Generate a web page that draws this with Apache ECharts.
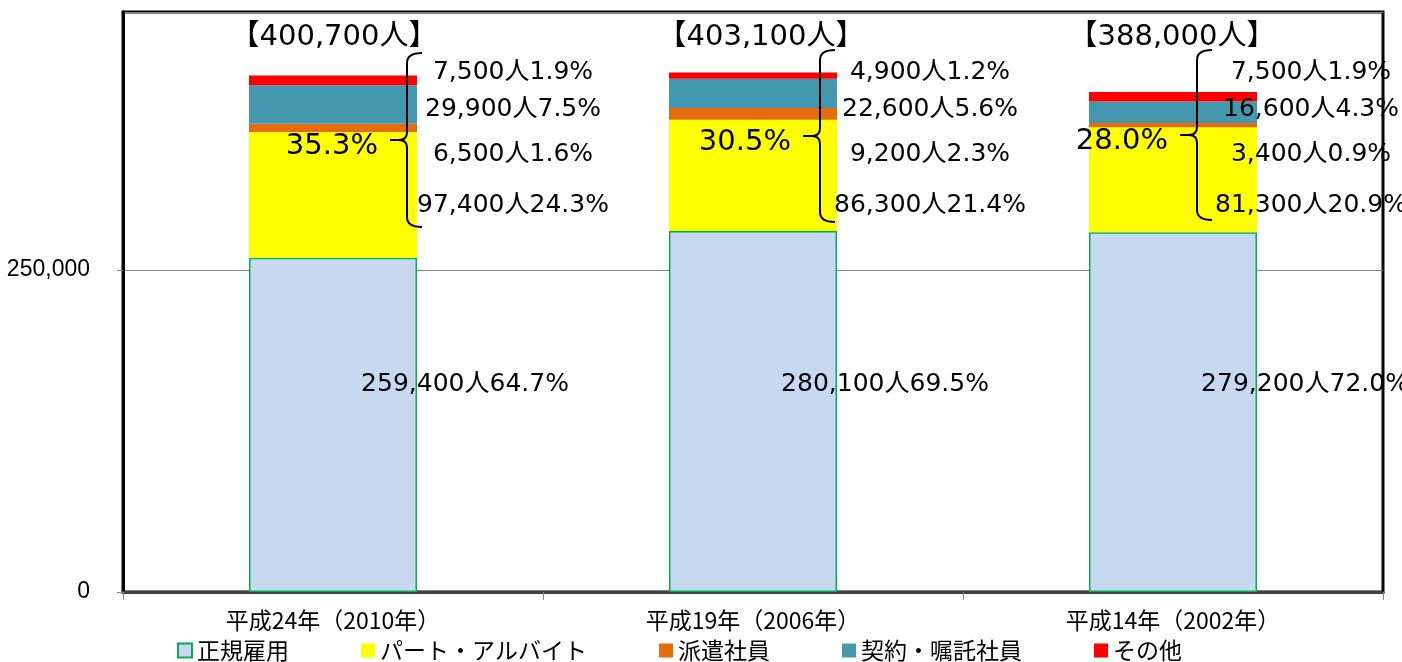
<!DOCTYPE html>
<html>
<head>
<meta charset="utf-8">
<script src="https://cdn.jsdelivr.net/npm/echarts@6/dist/echarts.min.js"></script>
<style>
    html, body { margin: 0; padding: 0; background: #fff; }
    #chart { width: 1402px; height: 662px; }
</style>
</head>
<body>
<div id="chart"></div>
<script>
// カテゴリ・系列
const categories = ["平成24年（2010年）", "平成19年（2006年）", "平成14年（2002年）"];
const seriesNames = ["正規雇用", "パート・アルバイト", "派遣社員", "契約・嘱託社員", "その他"];

// 人数
const regular = [259400, 280100, 279200];
const partTime = [97400, 86300, 81300];
const dispatch = [6500, 9200, 3400];
const contract = [29900, 22600, 16600];
const other = [7500, 4900, 7500];
const totals = [400700, 403100, 388000];

// 構成比（図の表記どおり）
const regularPct = ["64.7", "69.5", "72.0"];
const partTimePct = ["24.3", "21.4", "20.9"];
const dispatchPct = ["1.6", "2.3", "0.9"];
const contractPct = ["7.5", "5.6", "4.3"];
const otherPct = ["1.9", "1.2", "1.9"];
const nonRegularPct = ["35.3", "30.5", "28.0"];

const yMax = 450000;
const yInterval = 250000;

const colors = ["#c6d9f1", "#ffff00", "#e46c0a", "#4398b0", "#ff0000"];
const labelFont = '"DejaVu Sans", "Noto Sans CJK JP", sans-serif';
const cjkFont = '"Noto Sans CJK JP", sans-serif';

// 注記の配置（px, 棒・プロット上端からの相対）
const braceDx = [-10, -17, -60];
const braceTop = [41, 38, 38];
const braceBottom = [215, 210, 208];
const totalDx = [1, 8, -1];
const segLabelDx = [180, 177, 138];
const segRows = [60, 97, 142, 193];
const regularRow = 372;

const fmt = v => v.toLocaleString("en-US") + "人";

let chart = echarts.init(document.getElementById("chart"));

const renderNotes = (params, api) => {
    const i = api.value(0);
    const cx = api.coord([i, 0])[0];
    const top = api.coord([i, yMax])[1];
    const half = api.size([1, 0])[0] * 0.2;
    const bx = cx + half + braceDx[i];
    const y0 = top + braceTop[i];
    const y1 = top + braceBottom[i];
    const ym = (y0 + y1) / 2;

    const path =
        `M${bx + 15},${y0} Q${bx},${y0} ${bx},${y0 + 10} ` +
        `L${bx},${ym - 8} Q${bx},${ym} ${bx - 8},${ym} L${bx - 17},${ym} ` +
        `M${bx - 8},${ym} Q${bx},${ym} ${bx},${ym + 8} ` +
        `L${bx},${y1 - 10} Q${bx},${y1} ${bx + 15},${y1}`;

    const segTexts = [
        fmt(other[i]) + otherPct[i] + "%",
        fmt(contract[i]) + contractPct[i] + "%",
        fmt(dispatch[i]) + dispatchPct[i] + "%",
        fmt(partTime[i]) + partTimePct[i] + "%"
    ];

    const children = [
        {
            type: "path",
            shape: { pathData: path },
            style: { fill: null, stroke: "#000", lineWidth: 2 }
        },
        {
            type: "text",
            style: {
                text: nonRegularPct[i] + "%",
                x: bx - 29, y: ym + 6,
                align: "right", verticalAlign: "middle",
                fontSize: 29, fontFamily: labelFont, fill: "#000"
            }
        },
        {
            type: "text",
            style: {
                text: "【" + fmt(totals[i]) + "】",
                x: cx + totalDx[i], y: top + 25,
                align: "center", verticalAlign: "middle",
                fontSize: 29, fontFamily: labelFont, fill: "#000"
            }
        },
        {
            type: "text",
            style: {
                text: fmt(regular[i]) + regularPct[i] + "%",
                x: cx + 132, y: top + regularRow,
                align: "center", verticalAlign: "middle",
                fontSize: 25, fontFamily: labelFont, fill: "#000"
            }
        }
    ];
    segTexts.forEach((t, k) => {
        children.push({
            type: "text",
            style: {
                text: t,
                x: cx + segLabelDx[i], y: top + segRows[k],
                align: "center", verticalAlign: "middle",
                fontSize: 25, fontFamily: labelFont, fill: "#000"
            }
        });
    });
    return { type: "group", children: children };
};

const barSeries = [regular, partTime, dispatch, contract, other].map((data, k) => ({
    name: seriesNames[k],
    type: "bar",
    stack: "total",
    barWidth: "40%",
    data: data,
    itemStyle: k === 0
        ? { color: colors[0], borderColor: "#00b050", borderWidth: 1.5 }
        : { color: colors[k] }
}));

const option = {
    animation: false,
    color: colors,
    grid: {
        left: 123, right: 19, top: 12, bottom: 70,
        show: true, borderColor: "#000", borderWidth: 3, backgroundColor: "transparent"
    },
    legend: {
        data: seriesNames,
        left: 172, top: 634,
        icon: "rect",
        itemWidth: 14, itemHeight: 14, itemGap: 72,
        textStyle: { fontSize: 23, fontFamily: cjkFont, color: "#000" }
    },
    xAxis: {
        type: "category",
        data: categories,
        axisLine: { show: true, lineStyle: { color: "#404040", width: 3 } },
        axisTick: { show: true, length: 8, lineStyle: { color: "#868686" } },
        axisLabel: { margin: 17, fontSize: 23, fontFamily: cjkFont, color: "#000" }
    },
    yAxis: {
        type: "value",
        min: 0, max: yMax, interval: yInterval,
        axisLine: { show: true, lineStyle: { color: "#000", width: 3 } },
        axisTick: { show: true, length: 6, lineStyle: { color: "#868686" } },
        splitLine: { show: true, lineStyle: { color: "#868686", width: 1 } },
        axisLabel: {
            margin: 33, fontSize: 23, fontFamily: '"Liberation Sans", sans-serif', color: "#000",
            showMaxLabel: false,
            formatter: v => (v === yMax ? "" : v.toLocaleString("en-US"))
        }
    },
    series: barSeries.concat([{
        name: "notes",
        type: "custom",
        renderItem: renderNotes,
        data: categories.map((c, i) => [i]),
        z: 10,
        silent: true
    }])
};

chart.setOption(option, true);
window.addEventListener("resize", () => chart.resize());
</script>
</body>
</html>
